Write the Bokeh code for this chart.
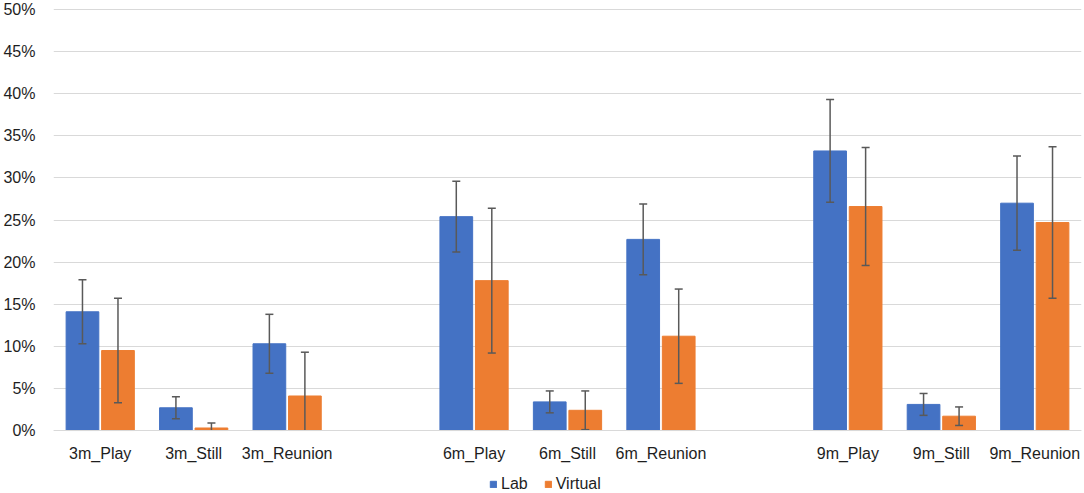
from bokeh.plotting import figure
from bokeh.models import (ColumnDataSource, FactorRange, Range1d, FixedTicker,
                          PrintfTickFormatter, Legend, LegendItem)
from bokeh.transform import dodge
from bokeh.embed import file_html
from bokeh.resources import INLINE

# ---- data ----
axis_factors = ["3m_Play", "3m_Still", "3m_Reunion", " ",
                "6m_Play", "6m_Still", "6m_Reunion", "  ",
                "9m_Play", "9m_Still", "9m_Reunion"]
groups = ["3m_Play", "3m_Still", "3m_Reunion",
          "6m_Play", "6m_Still", "6m_Reunion",
          "9m_Play", "9m_Still", "9m_Reunion"]
lab = [14.1, 2.7, 10.3, 25.4, 3.4, 22.7, 33.2, 3.1, 27.0]
virtual = [9.5, 0.3, 4.1, 17.8, 2.4, 11.2, 26.6, 1.7, 24.7]
lab_err = [3.8, 1.3, 3.5, 4.2, 1.3, 4.2, 6.1, 1.3, 5.6]
virtual_err = [6.2, 0.6, 5.2, 8.6, 2.3, 5.6, 7.0, 1.1, 9.0]
y_ticks = [0, 5, 10, 15, 20, 25, 30, 35, 40, 45, 50]
series_names = ["Lab", "Virtual"]

BLUE = "#4472C4"
ORANGE = "#ED7D31"
ERR = "#595959"
GRID = "#D9D9D9"
TEXT = "#1E1E1E"
FONT = "Liberation Sans"

# frame runs to the bottom of the canvas; the x axis sits at y = 0
p = figure(width=1084, height=493, output_backend="svg", toolbar_location=None,
           x_range=FactorRange(factors=axis_factors),
           y_range=Range1d(-7.48, 51.07),
           min_border_left=51, min_border_right=3, min_border_top=0,
           min_border_bottom=0)
p.outline_line_color = None
p.background_fill_color = "white"
p.border_fill_color = "white"

def make_source(vals, errs):
    return ColumnDataSource(dict(
        x=groups, top=vals,
        upper=[v + e for v, e in zip(vals, errs)],
        lower=[max(v - e, 0) for v, e in zip(vals, errs)]))

def make_lower_caps(vals, errs):
    xs, ys = [], []
    for g, v, e in zip(groups, vals, errs):
        if v - e > 0:
            xs.append(g)
            ys.append(v - e)
    return ColumnDataSource(dict(x=xs, y=ys))

renderers = []
for vals, errs, off, color in [(lab, lab_err, -0.19, BLUE),
                               (virtual, virtual_err, 0.19, ORANGE)]:
    src = make_source(vals, errs)
    xd = dodge("x", off, range=p.x_range)
    r = p.vbar(x=xd, top="top", bottom=0, width=0.35, source=src,
               fill_color=color, line_color=color, line_width=1)
    renderers.append(r)
    p.segment(x0=xd, y0="lower", x1=xd, y1="upper", source=src,
              line_color=ERR, line_width=1.5)
    p.scatter(x=xd, y="upper", source=src, marker="dash", size=8,
              line_color=ERR, line_width=1.5)
    lc = make_lower_caps(vals, errs)
    p.scatter(x=dodge("x", off, range=p.x_range), y="y", source=lc,
              marker="dash", size=8, line_color=ERR, line_width=1.5)

# axes
p.xgrid.grid_line_color = None
p.ygrid.grid_line_color = GRID
p.ygrid.grid_line_width = 1

p.yaxis.ticker = FixedTicker(ticks=y_ticks)
p.yaxis.formatter = PrintfTickFormatter(format="%d%%")
p.yaxis.axis_line_color = None
p.yaxis.major_tick_line_color = None
p.yaxis.minor_tick_line_color = None
p.yaxis.major_label_standoff = 12

p.xaxis.fixed_location = 0
p.xaxis.axis_line_color = GRID
p.xaxis.major_tick_line_color = None
p.xaxis.minor_tick_line_color = None
p.xaxis.major_label_standoff = 8

for ax in (p.xaxis, p.yaxis):
    ax.major_label_text_font = FONT
    ax.major_label_text_font_size = "16px"
    ax.major_label_text_color = TEXT

legend = Legend(items=[LegendItem(label=series_names[0], renderers=[renderers[0]]),
                       LegendItem(label=series_names[1], renderers=[renderers[1]])],
                orientation="horizontal", location=(436, 0),
                label_text_font=FONT, label_text_font_size="16px",
                label_text_color=TEXT, glyph_width=8, glyph_height=8,
                label_standoff=4, spacing=16, padding=2, margin=0,
                border_line_color=None, background_fill_alpha=0,
                label_height=14)
p.add_layout(legend, "center")

open("out.html", "w").write(file_html(p, INLINE))
